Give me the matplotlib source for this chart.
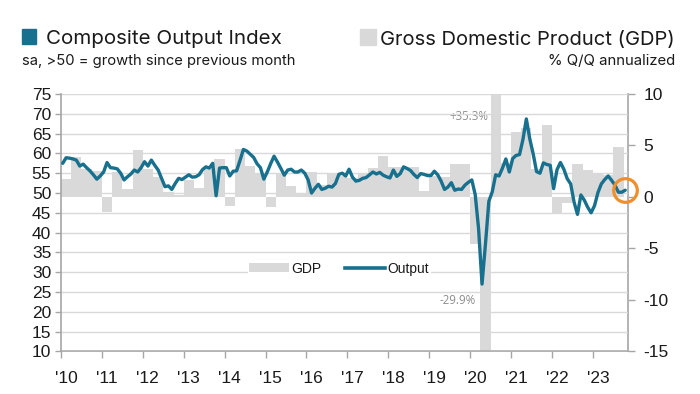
import matplotlib
matplotlib.use("Agg")
import matplotlib.pyplot as plt
import matplotlib.transforms as mtransforms
from matplotlib.lines import Line2D
from matplotlib.patches import Patch, Rectangle
import numpy as np

plt.rcParams['font.family'] = ['Liberation Sans', 'DejaVu Sans']

# ---------------- data ----------------
# S&P Global US Composite Output Index, monthly, Jan 2010 .. Oct 2023
output_index = [
    57.5, 58.9, 58.8, 58.6, 58.3, 56.8, 57.3, 56.4, 55.6, 54.6, 53.5, 54.3,   # 2010
    55.3, 57.7, 56.4, 56.3, 56.1, 55.0, 53.3, 54.1, 54.8, 55.8, 55.3, 56.4,   # 2011
    57.9, 56.8, 58.3, 57.0, 55.8, 53.7, 51.6, 51.8, 50.9, 52.4, 53.7, 53.4,   # 2012
    54.0, 54.6, 54.0, 54.1, 54.6, 55.9, 56.6, 56.3, 57.5, 49.3, 56.3, 56.4,   # 2013
    56.4, 54.3, 55.5, 55.6, 58.2, 61.0, 60.6, 59.8, 59.0, 57.4, 56.4, 53.5,   # 2014
    55.3, 57.4, 59.3, 57.8, 56.2, 54.5, 55.8, 56.0, 55.3, 55.3, 55.8, 55.0,   # 2015
    53.3, 50.0, 51.2, 52.2, 50.9, 51.2, 51.7, 51.5, 52.4, 54.7, 55.0, 54.3,   # 2016
    56.0, 54.0, 53.0, 53.2, 53.7, 53.9, 54.6, 55.3, 54.8, 55.2, 54.5, 54.1,   # 2017
    53.8, 55.8, 54.2, 54.9, 56.6, 56.2, 55.7, 54.7, 53.9, 54.9, 54.7, 54.4,   # 2018
    54.4, 55.5, 54.6, 53.0, 50.9, 51.5, 52.6, 50.7, 51.0, 50.9, 52.0, 52.7,   # 2019
    53.3, 49.6, 40.9, 27.0, 37.0, 47.9, 50.3, 54.6, 54.3, 56.3, 58.6, 55.3,   # 2020
    58.7, 59.5, 59.7, 63.5, 68.7, 63.7, 59.9, 55.4, 55.0, 57.6, 57.2, 57.0,   # 2021
    51.1, 55.9, 57.7, 56.0, 53.6, 52.3, 47.7, 44.6, 49.5, 48.2, 46.4, 45.0,   # 2022
    46.8, 50.1, 52.3, 53.4, 54.3, 53.2, 52.0, 50.2, 50.2, 50.7,               # 2023
]

# Real GDP, % q/q annualized, Q1 2010 .. Q3 2023
gdp_growth = [
    1.7, 3.9, 2.7, 2.5,     # 2010
    -1.5, 2.4, 0.8, 4.6,    # 2011
    2.7, 1.9, 0.5, 0.2,     # 2012
    1.6, 0.9, 2.7, 3.7,     # 2013
    -0.9, 4.7, 3.0, 2.3,    # 2014
    -1.0, 2.3, 1.1, 0.4,    # 2015
    2.4, 1.2, 2.3, 2.0,     # 2016
    1.8, 2.2, 2.8, 4.0,     # 2017
    2.9, 2.9, 2.9, 0.6,     # 2018
    2.0, 1.9, 3.2, 3.2,     # 2019
    -4.6, -29.9, 35.3, 3.3, # 2020
    6.3, 6.7, 2.7, 7.0,     # 2021
    -1.6, -0.6, 3.2, 2.6,   # 2022
    2.2, 2.1, 4.9,          # 2023
]

start_year = 2010
year_labels = ["'10", "'11", "'12", "'13", "'14", "'15", "'16",
               "'17", "'18", "'19", "'20", "'21", "'22", "'23"]
left_ticks = [10, 15, 20, 25, 30, 35, 40, 45, 50, 55, 60, 65, 70, 75]
right_ticks = [-15, -10, -5, 0, 5, 10]

months = start_year + (np.arange(len(output_index)) + 0.5) / 12.0
quarters = start_year + np.arange(len(gdp_growth)) / 4.0

# ---------------- style ----------------
TEAL = '#17708E'
GREY_BAR = '#d9d9d9'
GRID = '#d9d9d9'
SPINE = '#a6a6a6'
ORANGE = '#EE8F2C'
TXT = '#1a1a1a'

W, H = 700, 394
fig = plt.figure(figsize=(W / 100, H / 100), dpi=100)

def fx(px):
    return px / W

def fy(py):
    return 1 - py / H

ax_l, ax_r = 61, 628
ax_t, ax_b = 94, 351.4
ax = fig.add_axes([fx(ax_l), fy(ax_b), (ax_r - ax_l) / W, (ax_b - ax_t) / H])

# GDP bars on right scale (base axes)
ax.bar(quarters, gdp_growth, width=0.25, align='edge', color=GREY_BAR,
       linewidth=0, zorder=1)
ax.set_ylim(-15, 10)
ax.set_xlim(start_year, 2023.86)
ax.set_xticks(np.arange(start_year, start_year + len(year_labels)))
ax.set_xticklabels(year_labels)
ax.tick_params(axis='x', length=5, width=1, color=SPINE, pad=9,
               labelsize=12.5, labelcolor=TXT)
offset = mtransforms.ScaledTranslation(5 / 100, 0, fig.dpi_scale_trans)
for lab in ax.get_xticklabels():
    lab.set_transform(lab.get_transform() + offset)

# Output line on left scale (twin axes drawn on top)
ax2 = ax.twinx()

# right axis (GDP) - must be set after twinx
ax.yaxis.tick_right()
ax.yaxis.set_label_position('right')
ax.set_yticks(right_ticks)
ax.set_yticklabels([str(v) for v in right_ticks])
ax.tick_params(axis='y', which='both', right=True, left=False,
               labelright=True, labelleft=False, length=5,
               width=1, color=SPINE, pad=6, labelsize=12.5, labelcolor=TXT)
for s in ['top', 'left']:
    ax.spines[s].set_visible(False)
for s in ['right', 'bottom']:
    ax.spines[s].set_color(SPINE)
    ax.spines[s].set_linewidth(1.2)

ax2.set_ylim(10, 75)
ax2.yaxis.tick_left()
ax2.yaxis.set_label_position('left')
ax2.set_yticks(left_ticks)
ax2.set_yticklabels([str(v) for v in left_ticks])
ax2.tick_params(axis='y', left=True, right=False, labelleft=True,
                labelright=False, length=4, width=1,
                color=SPINE, pad=3, labelsize=12.5, labelcolor=TXT)
ax2.grid(axis='y', color=GRID, linewidth=1, zorder=0)
for s in ['top', 'right', 'bottom']:
    ax2.spines[s].set_visible(False)
ax2.spines['left'].set_color(SPINE)
ax2.spines['left'].set_linewidth(1.2)
ax2.set_axisbelow(True)

ax2.plot(months, output_index, color=TEAL, linewidth=2.4,
         solid_joinstyle='round', solid_capstyle='round', zorder=3)

# Highlight latest reading
ax2.plot(months[-1], output_index[-1], marker='o', markersize=17,
         markerfacecolor='none', markeredgecolor=ORANGE, markeredgewidth=2.3,
         clip_on=False, zorder=5)

# Off-scale GDP labels
ax.text(2020.46, 7.8, '+35.3%', ha='right', va='center', fontsize=8.3,
        color='#8c8c8c', family=['Open Sans', 'DejaVu Sans'])
ax.text(2020.13, -10.1, '-29.9%', ha='right', va='center', fontsize=8.3,
        color='#8c8c8c', family=['Open Sans', 'DejaVu Sans'])

# Inner legend
handles = [Patch(facecolor=GREY_BAR, edgecolor='none'),
           Line2D([0], [0], color=TEAL, linewidth=2.6)]
leg = ax2.legend(handles, ['GDP', 'Output'], ncol=2, loc='center left',
                 bbox_to_anchor=(0.317, 0.322), frameon=True,
                 facecolor='white', edgecolor='none', framealpha=1,
                 fontsize=10, handlelength=2.9, handleheight=0.55,
                 handletextpad=0.15, columnspacing=1.7, borderpad=0.1)
leg.set_zorder(4)
for t in leg.get_texts():
    t.set_color(TXT)

# ---------------- header ----------------
TFONT = ['Inter', 'DejaVu Sans']
fig.patches.append(Rectangle((fx(21.7), fy(44)), 14.3 / W, 14.7 / H,
                             transform=fig.transFigure, color=TEAL))
fig.patches.append(Rectangle((fx(360), fy(45)), 16 / W, 15.7 / H,
                             transform=fig.transFigure, color=GREY_BAR))
t1 = fig.text(fx(46), fy(44), 'Composite Output Index', fontsize=14,
              va='baseline', ha='left', color=TXT, family=TFONT)
t2 = fig.text(fx(22), fy(64.7), 'sa, >50 = growth since previous month',
              fontsize=10, va='baseline', ha='left', color=TXT, family=TFONT)
t3 = fig.text(fx(675), fy(45), 'Gross Domestic Product (GDP)', fontsize=14,
              va='baseline', ha='right', color=TXT, family=TFONT)
t4 = fig.text(fx(675), fy(65), '% Q/Q annualized', fontsize=10,
              va='baseline', ha='right', color=TXT, family=TFONT)

fig.canvas.draw()
r = fig.canvas.get_renderer()
for t, wpx in [(t1, 236), (t2, 275), (t3, 295), (t4, 128)]:
    w = t.get_window_extent(r).width
    t.set_fontsize(t.get_fontsize() * wpx / w)

fig.savefig('out.png', dpi=100)
